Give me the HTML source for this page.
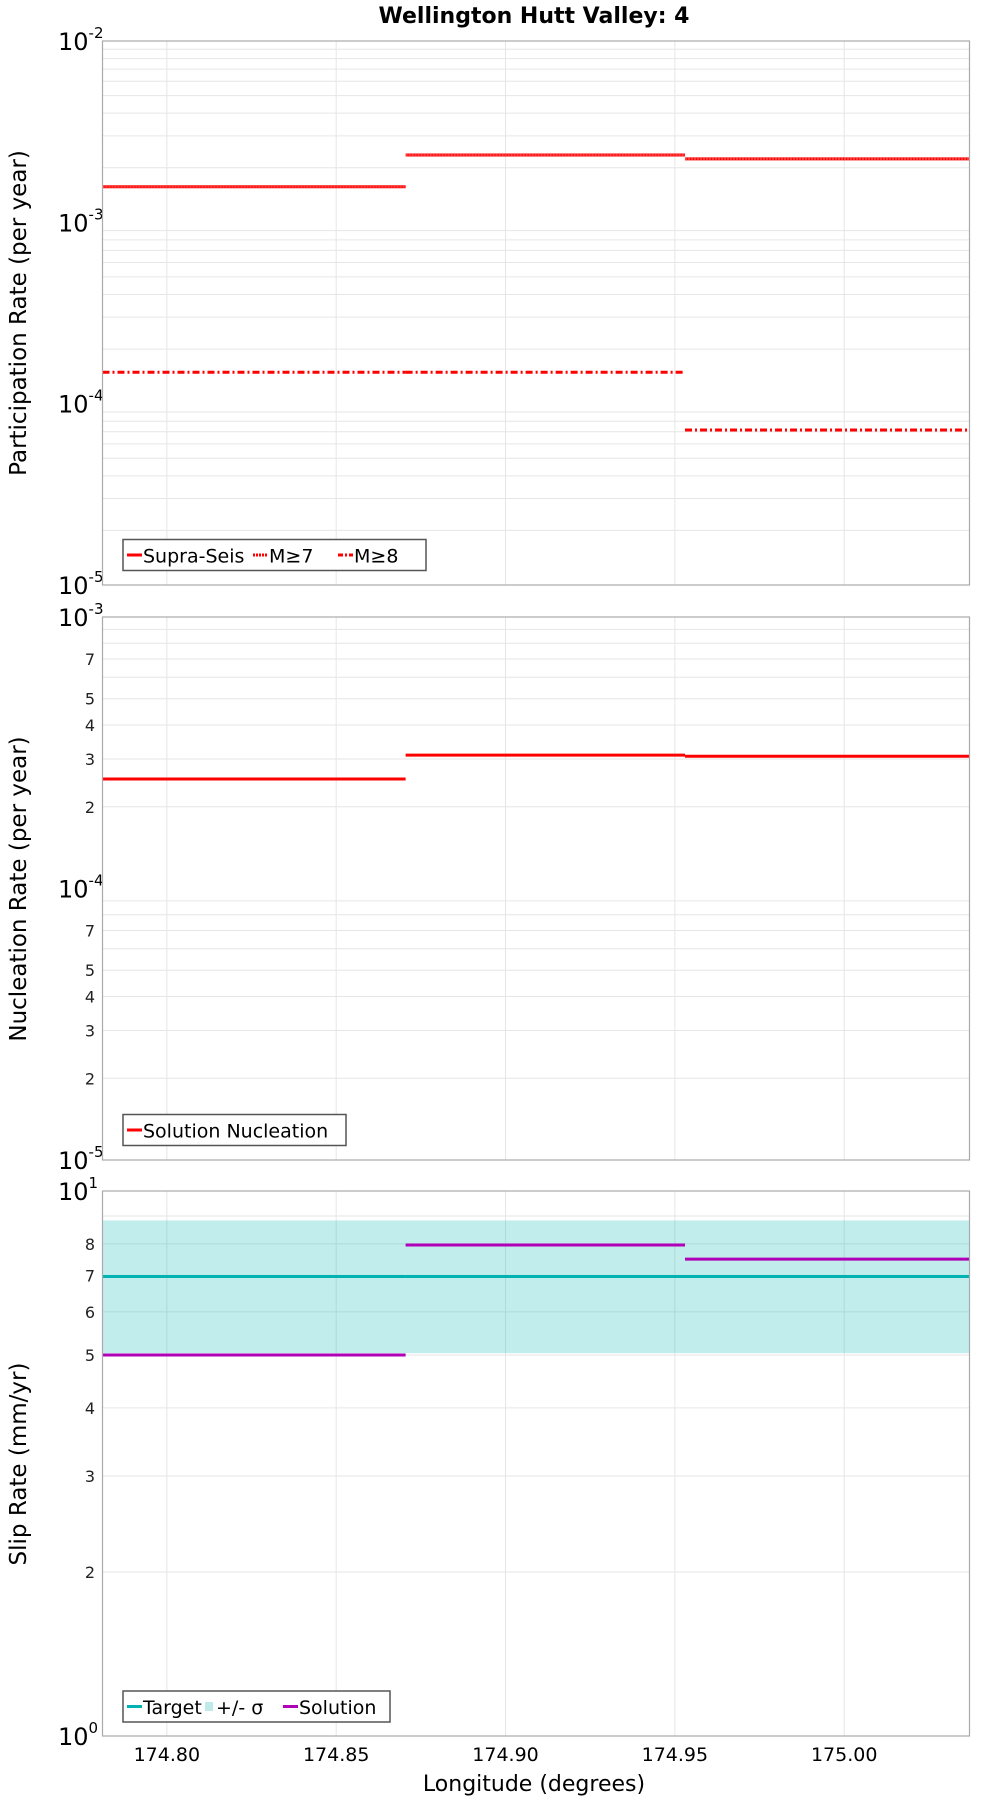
<!DOCTYPE html>
<html><head><meta charset="utf-8">
<style>
html,body{margin:0;padding:0;background:#fff;}
svg{display:block;font-family:"DejaVu Sans","Liberation Sans",sans-serif;}
</style></head>
<body>
<svg id="chart" width="1000" height="1800" viewBox="0 0 1000 1800" xmlns="http://www.w3.org/2000/svg">
<text x="534" y="23" text-anchor="middle" font-size="22" font-weight="bold">Wellington Hutt Valley: 4</text>
<g id="layer"></g>
<text transform="translate(26,313) rotate(-90)" text-anchor="middle" font-size="23">Participation Rate (per year)</text>
<text transform="translate(26,889) rotate(-90)" text-anchor="middle" font-size="23">Nucleation Rate (per year)</text>
<text transform="translate(26,1464) rotate(-90)" text-anchor="middle" font-size="23">Slip Rate (mm/yr)</text>
<text x="534" y="1791" text-anchor="middle" font-size="22">Longitude (degrees)</text>
</svg>
<script>
const segStart = [174.781, 174.8705, 174.953];
const segEnd = [174.8705, 174.953, 175.037];
const supraSeis = [1.57e-3, 2.35e-3, 2.24e-3];
const m7 = [1.57e-3, 2.35e-3, 2.24e-3];
const m8 = [1.49e-4, 1.49e-4, 7.16e-5];
const nucleation = [2.53e-4, 3.10e-4, 3.07e-4];
const slipTarget = [6.97, 6.97, 6.97];
const slipLow = [5.04, 5.04, 5.04];
const slipHigh = [8.83, 8.83, 8.83];
const slipSolution = [5.0, 7.96, 7.5];
const xTicks = [174.80, 174.85, 174.90, 174.95, 175.00];
const xTickLabels = ["174.80", "174.85", "174.90", "174.95", "175.00"];

const NS = "http://www.w3.org/2000/svg";
const layer = document.getElementById("layer");
const L = 102.5, R = 969.5, XMIN = 174.781, XMAX = 175.037;
function xs(v){ return L + (v - XMIN) / (XMAX - XMIN) * (R - L); }
function mk(tag, attrs, parent){
  const e = document.createElementNS(NS, tag);
  for (const k in attrs) e.setAttribute(k, attrs[k]);
  (parent || layer).appendChild(e);
  return e;
}
function panel(top, bot, lmin, lmax){
  return { top, bot, y: v => bot - (Math.log10(v) - lmin) / (lmax - lmin) * (bot - top), lmin, lmax };
}
const p1 = panel(41, 585, -5, -2);
const p2 = panel(617, 1160, -5, -3);
const p3 = panel(1191, 1736, 0, 1);

function drawGrid(p, name, smallLabels){
  const g = mk("g", {});
  
  
  for (let d = p.lmin; d < p.lmax; d++){
    for (let m = 1; m <= 9; m++){
      const v = m * Math.pow(10, d);
      const y = p.y(v);
      if (m > 1) mk("line", {x1:L, x2:R, y1:y, y2:y, stroke:"#e6e6e6", "stroke-width":1}, g);
      if (m > 1 && smallLabels.indexOf(m) >= 0){
        const t = mk("text", {x:95, y:y+6, "text-anchor":"end", "font-size":16, fill:"#222"});
        t.textContent = String(m);
        
        
      }
    }
  }
  for (const xv of xTicks){
    mk("line", {x1:xs(xv), x2:xs(xv), y1:p.top, y2:p.bot, stroke:"#e6e6e6", "stroke-width":1}, g);
  }
  for (let d = p.lmin; d <= p.lmax; d++){
    const y = p.y(Math.pow(10, d));
    const t = mk("text", {x:58, y:y+9, "font-size":24, fill:"#000"});
    t.textContent = "10";
    const s = mk("tspan", {dy:-12, "font-size":15});
    s.textContent = String(d);
    t.appendChild(s);
    
    
  }
}
function frame(p, name){
  const r = mk("rect", {x:L, y:p.top, width:R-L, height:p.bot-p.top, fill:"none", stroke:"#aaa", "stroke-width":1.2});
  
  
}
function steps(p, vals, color, w, dash, name){
  for (let i = 0; i < vals.length; i++){
    const y = p.y(vals[i]);
    const a = {x1:xs(segStart[i]), x2:xs(segEnd[i]), y1:y, y2:y, stroke:color, "stroke-width":w};
    if (dash) a["stroke-dasharray"] = dash;
    const l = mk("line", a);
    
    
  }
}
function legend(x, y, w, items, name){
  const g = mk("g", {});
  
  
  mk("rect", {x:x, y:y, width:w, height:31, fill:"#fff", stroke:"#555", "stroke-width":1.5}, g);
  let cx = x + 4;
  for (const it of items){
    if (it.box){
      mk("rect", {x:cx, y:y+11, width:8, height:9, fill:it.color}, g);
      cx += 11;
    } else {
      const a = {x1:cx, x2:cx+15, y1:y+15.5, y2:y+15.5, stroke:it.color, "stroke-width":3};
      if (it.dash) a["stroke-dasharray"] = it.dash;
      mk("line", a, g);
      cx += 16;
    }
    const t = mk("text", {x:cx, y:y+23, "font-size":19, fill:"#000"}, g);
    t.textContent = it.label;
    
    
    cx += it.w;
  }
}

// Panel 1
drawGrid(p1, "participation", []);
steps(p1, supraSeis, "#ff0000", 3, null, "supra-seis");
steps(p1, m7, "#ff4040", 2, "2 1", "m7");
steps(p1, m8, "#ff0000", 3, "7 3 2 3", "m8");
frame(p1, "participation");
legend(123, 539.5, 303, [
  {color:"#ff0000", label:"Supra-Seis", w:110},
  {color:"#ff0000", label:"M≥7", dash:"2 1", w:69},
  {color:"#ff0000", label:"M≥8", dash:"5 2 2 2", w:60}
], "participation-legend");

// Panel 2
drawGrid(p2, "nucleation", [2,3,4,5,7]);
steps(p2, nucleation, "#ff0000", 3, null, "nucleation");
frame(p2, "nucleation");
legend(123, 1114.5, 223, [{color:"#ff0000", label:"Solution Nucleation", w:200}], "nucleation-legend");

// Panel 3
drawGrid(p3, "slip", [2,3,4,5,6,7,8]);
for (let i = 0; i < slipLow.length; i++){
  const b = mk("rect", {x:xs(segStart[i]), y:p3.y(slipHigh[i]), width:xs(segEnd[i])-xs(segStart[i]), height:p3.y(slipLow[i])-p3.y(slipHigh[i]), fill:"rgba(0,178,178,0.24)"});
  
  
}
steps(p3, slipTarget, "#00b2b2", 3, null, "slip-target");
steps(p3, slipSolution, "#b000b8", 3, null, "slip-solution");
frame(p3, "slip");
legend(123, 1691, 267, [
  {color:"#00b2b2", label:"Target", w:62},
  {color:"#bfeaea", label:"+/- σ", box:true, w:67},
  {color:"#b000b8", label:"Solution", w:80}
], "slip-legend");

// X tick labels
for (let i = 0; i < xTicks.length; i++){
  const t = mk("text", {x:xs(xTicks[i]), y:1761, "text-anchor":"middle", "font-size":19, fill:"#000"});
  t.textContent = xTickLabels[i];
  
  
}
</script>
</body></html>
